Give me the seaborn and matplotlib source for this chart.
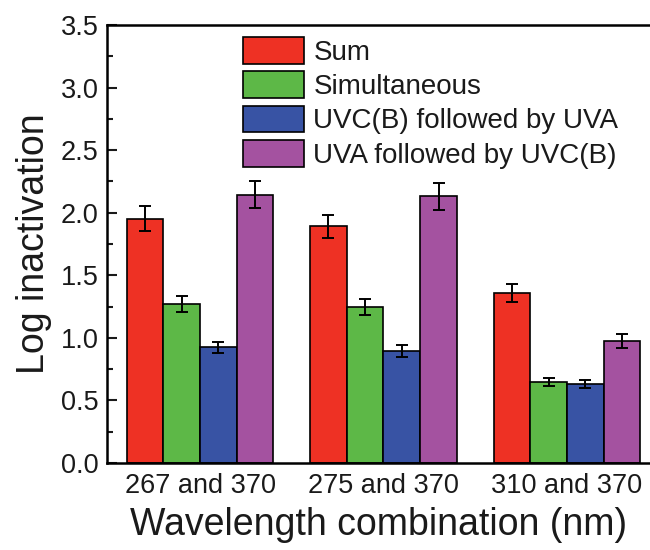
import matplotlib
matplotlib.use("Agg")
import matplotlib.pyplot as plt
import seaborn as sns
import pandas as pd
import numpy as np
from matplotlib.ticker import MultipleLocator

categories = ["267 and 370", "275 and 370", "310 and 370"]
series = ["Sum", "Simultaneous", "UVC(B) followed by UVA", "UVA followed by UVC(B)"]
sum_vals = [1.95, 1.89, 1.36]
simul_vals = [1.27, 1.245, 0.645]
uvc_uva_vals = [0.925, 0.895, 0.63]
uva_uvc_vals = [2.145, 2.13, 0.975]
sum_err = [0.10, 0.095, 0.072]
simul_err = [0.067, 0.064, 0.032]
uvc_uva_err = [0.044, 0.044, 0.031]
uva_uvc_err = [0.11, 0.105, 0.053]
colors = ["#EE3124", "#5DB847", "#3853A4", "#A452A0"]

vals = [sum_vals, simul_vals, uvc_uva_vals, uva_uvc_vals]
errs = [sum_err, simul_err, uvc_uva_err, uva_uvc_err]
rows = []
for s, v, e in zip(series, vals, errs):
    for c, vv, ee in zip(categories, v, e):
        rows.append({"cat": c, "series": s, "value": vv, "err": ee})
df = pd.DataFrame(rows)

sns.set_style("ticks")
plt.rcParams['font.family'] = ['Liberation Sans', 'DejaVu Sans']
txt = "#1a1a1a"
plt.rcParams['text.color'] = txt
plt.rcParams['axes.labelcolor'] = txt
plt.rcParams['xtick.color'] = txt
plt.rcParams['ytick.color'] = txt

fig = plt.figure(figsize=(6.5, 5.5), dpi=100)
W, H = 650, 550
ax = fig.add_axes([107 / W, (H - 463) / H, (651 - 107) / W, (463 - 25) / H])

sns.barplot(data=df, x="cat", y="value", hue="series", order=categories,
            hue_order=series, palette=colors, width=0.8, errorbar=None,
            edgecolor="black", linewidth=1.2, saturation=1, ax=ax)

# error bars at bar centres taken from the drawn patches
for i, s in enumerate(series):
    cont = ax.containers[i]
    xs = [p.get_x() + p.get_width() / 2 for p in cont.patches]
    ys = [p.get_height() for p in cont.patches]
    ax.errorbar(xs, ys, yerr=errs[i], fmt="none", ecolor="black",
                elinewidth=1.4, capsize=4.5, capthick=1.4, zorder=5)

ax.set_xlim(-0.507, 2.458)
ax.set_ylim(0, 3.5)
ax.yaxis.set_major_locator(MultipleLocator(0.5))
ax.yaxis.set_minor_locator(MultipleLocator(0.25))
ax.yaxis.set_major_formatter(matplotlib.ticker.FormatStrFormatter("%.1f"))
ax.tick_params(axis="y", which="major", direction="in", length=7, width=1.5,
               labelsize=19.5, pad=6, left=True, right=False)
ax.tick_params(axis="y", which="minor", direction="in", length=4, width=1.5,
               left=True, right=False)
ax.tick_params(axis="x", length=0, labelsize=19.5, pad=7)

for sp in ax.spines.values():
    sp.set_visible(True)
    sp.set_linewidth(1.8)
    sp.set_color("black")

ax.set_xlabel("Wavelength combination (nm)", fontsize=27, labelpad=6)
ax.set_ylabel("Log inactivation", fontsize=27, labelpad=6)

leg = ax.legend(loc="upper left", bbox_to_anchor=((243 - 107) / 544, (463 - 37) / 438),
                frameon=False, fontsize=20, handlelength=2.2, handleheight=1.1,
                labelspacing=0.2, handletextpad=0.33, borderpad=0, borderaxespad=0)

fig.savefig("out.png", dpi=100)
